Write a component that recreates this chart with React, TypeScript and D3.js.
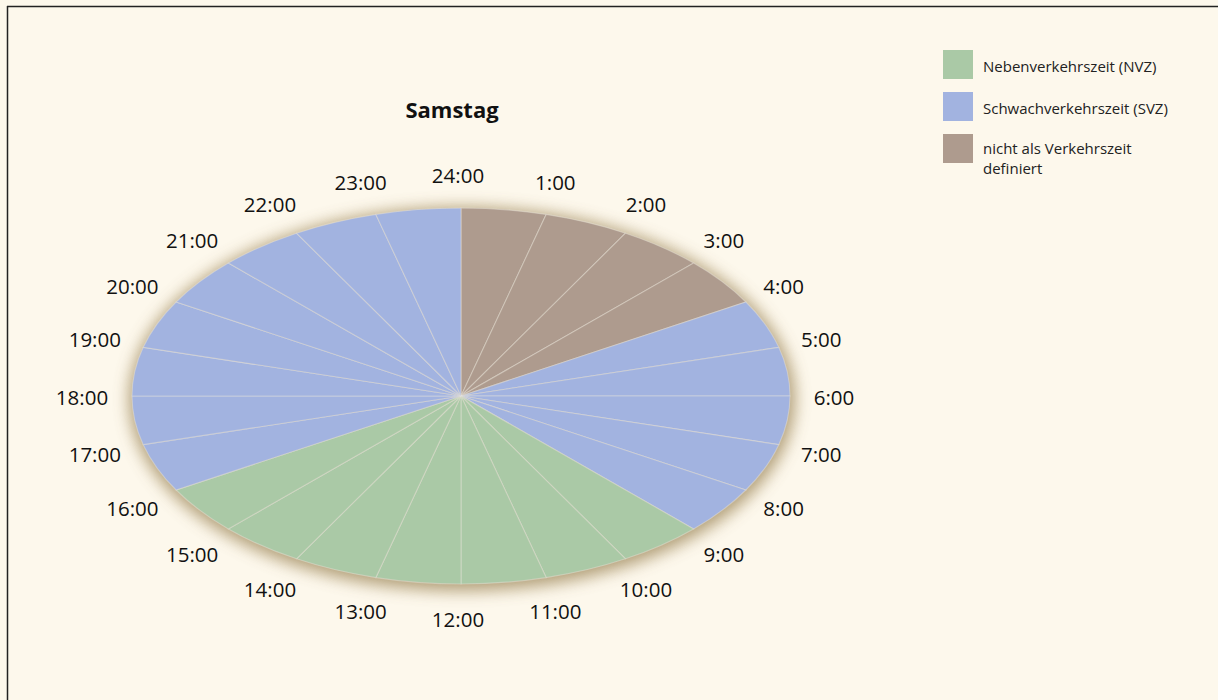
import React from "react";
import * as d3 from "d3";

const categories = ["NVZ", "SVZ", "none"];
const categoryLabels = [["Nebenverkehrszeit (NVZ)"], ["Schwachverkehrszeit (SVZ)"], ["nicht als Verkehrszeit", "definiert"]];
const categoryColors = ["#aac9a6", "#a2b3e0", "#ae9b8e"];
// category of each hour slot, 0:00-1:00 ... 23:00-24:00
const hourCategory = [
  "none", "none", "none", "none",
  "SVZ", "SVZ", "SVZ", "SVZ", "SVZ",
  "NVZ", "NVZ", "NVZ", "NVZ", "NVZ", "NVZ", "NVZ",
  "SVZ", "SVZ", "SVZ", "SVZ", "SVZ", "SVZ", "SVZ", "SVZ",
];
const hourLabels = [
  "24:00", "1:00", "2:00", "3:00", "4:00", "5:00", "6:00", "7:00", "8:00", "9:00", "10:00", "11:00",
  "12:00", "13:00", "14:00", "15:00", "16:00", "17:00", "18:00", "19:00", "20:00", "21:00", "22:00", "23:00",
];
const title = "Samstag";

export default function App() {
  const W = 1218, H = 700;
  const cx = 461, cy = 396, rx = 329, ry = 188;
  const lcx = 458, lcy = 397.5, lrx = 376, lry = 222;
  const pie = d3.pie<string>().value(() => 1).sort(null).startAngle(0).endAngle(2 * Math.PI);
  const arcs = pie(hourCategory);
  const arc = d3.arc<d3.PieArcDatum<string>>().innerRadius(0).outerRadius(rx);
  const color = d3.scaleOrdinal<string, string>().domain(categories).range(categoryColors);
  const angle = d3.scaleLinear().domain([0, 24]).range([0, 2 * Math.PI]);
  const font = "'Open Sans', 'Noto Sans', sans-serif";
  const fs = 20.5;
  return (
    <div style={{ position: "fixed", left: 0, top: 0, width: W, height: H }}>
      <svg width={W} height={H} style={{ display: "block" }}>
        <defs>
          <filter id="glow" x="-20%" y="-20%" width="140%" height="140%">
            <feGaussianBlur stdDeviation="8" />
          </filter>
        </defs>
        <rect x={0} y={0} width={W} height={H} fill="#fdf8ec" />
        <line x1={7} y1={6.5} x2={W} y2={6.5} stroke="#222" strokeWidth={1.5} />
        <line x1={7.5} y1={6} x2={7.5} y2={H} stroke="#222" strokeWidth={1.5} />
        <text x={452} y={118} textAnchor="middle" fontFamily={font} fontWeight="bold" fontSize={22} fill="#111">{title}</text>
        <ellipse cx={cx + 1} cy={cy + 3} rx={rx + 4} ry={ry + 4} fill="#a48f63" opacity={0.85} filter="url(#glow)" />
        <g transform={`translate(${cx},${cy}) scale(1,${ry / rx})`}>
          {arcs.map((a, i) => (
            <path key={i} d={arc(a) || ""} fill={color(a.data)} stroke="rgba(232,228,220,0.45)" strokeWidth={1.1} vectorEffect="non-scaling-stroke" />
          ))}
        </g>
        {hourLabels.map((lab, i) => {
          const t = angle(i);
          const x = lcx + lrx * Math.sin(t);
          const y = lcy - lry * Math.cos(t);
          return (
            <text key={lab} x={x} y={y} dy="0.35em" textAnchor="middle" fontFamily={font} fontSize={fs} fill="#111">{lab}</text>
          );
        })}
        {categories.map((c, i) => (
          <g key={c} transform={`translate(943,${50 + i * 42})`}>
            <rect width={30} height={29} fill={categoryColors[i]} />
            <text x={40} y={categoryLabels[i].length > 1 ? 19.5 : 22} fontFamily={font} fontSize={15} fill="#222">
              {categoryLabels[i].map((ln, j) => (
                <tspan key={j} x={40} dy={j === 0 ? 0 : 20.5}>{ln}</tspan>
              ))}
            </text>
          </g>
        ))}
      </svg>
    </div>
  );
}
